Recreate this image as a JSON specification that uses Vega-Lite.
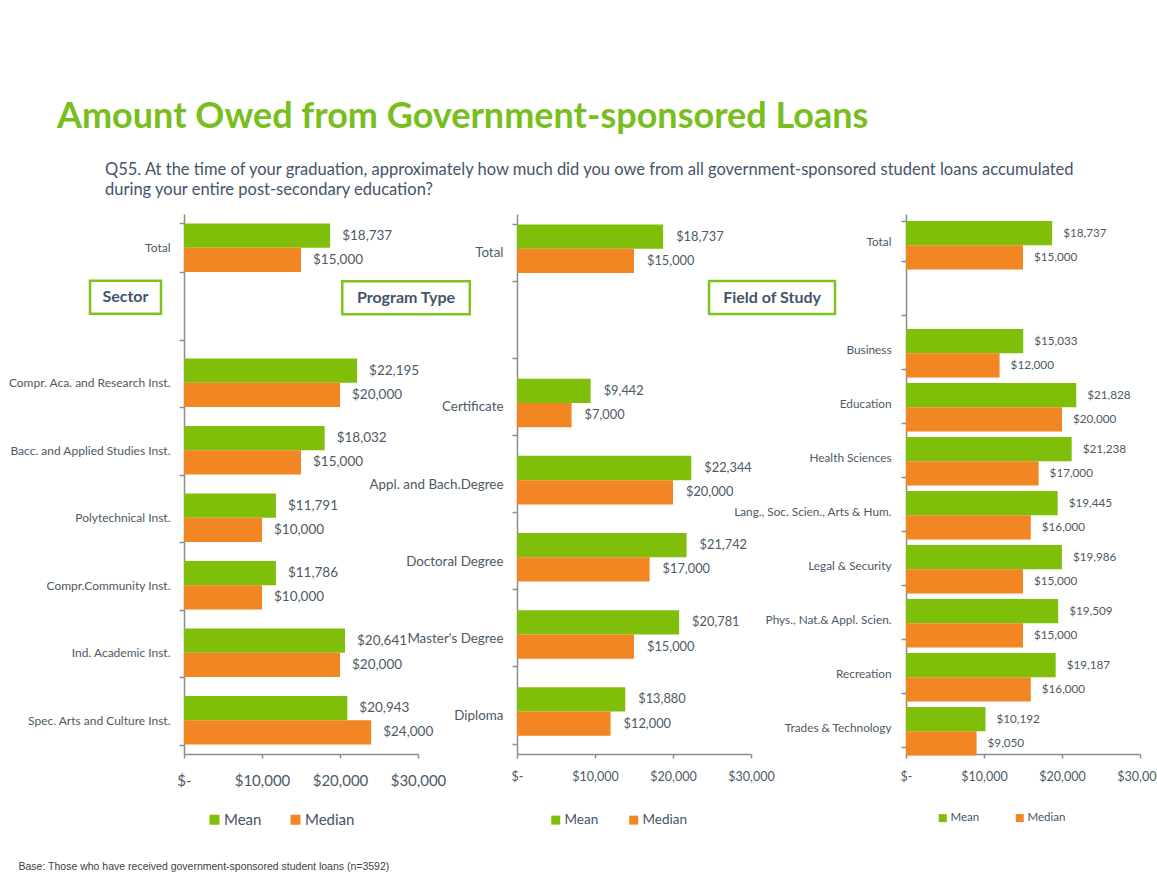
{
  "$schema": "https://vega.github.io/schema/vega-lite/v6.json",
  "padding": {"left": 8, "top": 98, "right": 0, "bottom": 0},
  "background": "white",
  "title": {"text": "Amount Owed from Government-sponsored Loans", "anchor": "start", "frame": "group", "dx": -127, "fontSize": 36, "font": "Lato", "fontWeight": "bold", "color": "#78BE1E", "offset": 26},
  "bounds": "flush",
  "spacing": 99,
  "resolve": {"scale": {"x": "independent", "y": "independent", "color": "independent"}, "legend": {"color": "independent"}},
  "hconcat": [
    {
      "width": 234,
      "height": 540,
      "title": {"text": ["Q55. At the time of your graduation, approximately how much did you owe from all government-sponsored student loans accumulated", "during your entire post-secondary education?"], "anchor": "start", "frame": "group", "dx": -79, "fontSize": 16.5, "font": "Lato", "fontWeight": "normal", "color": "#44546A", "lineHeight": 20, "offset": 10},
      "layer": [
        {
          "data": {"values": [
            {"cat": "Total", "measure": "Mean", "value": 18737},
            {"cat": "Total", "measure": "Median", "value": 15000},
            {"cat": "Compr. Aca. and Research Inst.", "measure": "Mean", "value": 22195},
            {"cat": "Compr. Aca. and Research Inst.", "measure": "Median", "value": 20000},
            {"cat": "Bacc. and Applied Studies Inst.", "measure": "Mean", "value": 18032},
            {"cat": "Bacc. and Applied Studies Inst.", "measure": "Median", "value": 15000},
            {"cat": "Polytechnical Inst.", "measure": "Mean", "value": 11791},
            {"cat": "Polytechnical Inst.", "measure": "Median", "value": 10000},
            {"cat": "Compr.Community Inst.", "measure": "Mean", "value": 11786},
            {"cat": "Compr.Community Inst.", "measure": "Median", "value": 10000},
            {"cat": "Ind. Academic Inst.", "measure": "Mean", "value": 20641},
            {"cat": "Ind. Academic Inst.", "measure": "Median", "value": 20000},
            {"cat": "Spec. Arts and Culture Inst.", "measure": "Mean", "value": 20943},
            {"cat": "Spec. Arts and Culture Inst.", "measure": "Median", "value": 24000}
          ]},
          "layer": [
            {
              "mark": {"type": "bar"},
              "encoding": {
                "y": {"field": "cat", "type": "nominal", "sort": null,
                  "scale": {"domain": ["Total", "blank", "Compr. Aca. and Research Inst.", "Bacc. and Applied Studies Inst.", "Polytechnical Inst.", "Compr.Community Inst.", "Ind. Academic Inst.", "Spec. Arts and Culture Inst."], "paddingInner": 0.28, "paddingOuter": 0.14},
                  "axis": {"title": null, "labelExpr": "datum.label == 'blank' ? '' : datum.label", "tickBand": "extent", "tickSize": 5, "labelPadding": 9, "labelFontSize": 12, "labelLimit": 300}},
                "yOffset": {"field": "measure", "type": "nominal", "scale": {"domain": ["Mean", "Median"]}},
                "x": {"field": "value", "type": "quantitative", "scale": {"domain": [0, 30000], "nice": false},
                  "axis": {"values": [0, 10000, 20000, 30000], "labelExpr": "datum.value == 0 ? '$-' : '$' + format(datum.value, ',')", "labelFontSize": 15, "labelPadding": 15,
                    "title": "Base: Those who have received government-sponsored student loans (n=3592)", "titleFont": "Liberation Sans", "titleFontSize": 10.5, "titleFontWeight": "normal", "titleColor": "#404040", "titleX": -166, "titleY": 115, "titleAlign": "left", "titleAnchor": "start", "titleBaseline": "alphabetic"}},
                "color": {"field": "measure", "type": "nominal", "scale": {"domain": ["Mean", "Median"], "range": ["#7FBF0A", "#F28623"]},
                  "legend": {"orient": "none", "legendX": 23, "legendY": 598, "direction": "horizontal", "title": null, "symbolType": "square", "symbolSize": 100, "symbolStrokeWidth": 0, "labelFontSize": 15, "columnPadding": 26, "labelOffset": 2}}
              }
            },
            {
              "mark": {"type": "text", "align": "left", "baseline": "middle", "dx": 12, "fontSize": 13.5, "color": "#4D5966"},
              "encoding": {
                "y": {"field": "cat", "type": "nominal", "sort": null},
                "yOffset": {"field": "measure", "type": "nominal"},
                "x": {"field": "value", "type": "quantitative"},
                "text": {"field": "value", "type": "quantitative", "format": "$,"}
              }
            }
          ]
        },
        {
          "data": {"values": [{"label": "Sector"}]},
          "layer": [
            {
              "mark": {"type": "bar", "height": 33, "yOffset": -18, "fill": "white", "stroke": "#7DC21E", "strokeWidth": 2.5},
              "encoding": {"x": {"datum": -12050}, "x2": {"datum": -2950}, "y": {"datum": "blank"}}
            },
            {
              "mark": {"type": "text", "yOffset": -18, "fontSize": 16, "fontWeight": "bold", "color": "#44546A", "baseline": "middle"},
              "encoding": {"x": {"datum": -7500}, "y": {"datum": "blank"}, "text": {"field": "label"}}
            }
          ]
        }
      ]
    },
    {
      "bounds": "flush",
      "spacing": 155,
      "resolve": {"scale": {"x": "independent", "y": "independent", "color": "independent"}, "legend": {"color": "independent"}},
      "hconcat": [
        {
          "width": 234,
          "height": 540,
          "layer": [
            {
              "data": {"values": [
                {"cat": "Total", "measure": "Mean", "value": 18737},
                {"cat": "Total", "measure": "Median", "value": 15000},
                {"cat": "Certificate", "measure": "Mean", "value": 9442},
                {"cat": "Certificate", "measure": "Median", "value": 7000},
                {"cat": "Appl. and Bach.Degree", "measure": "Mean", "value": 22344},
                {"cat": "Appl. and Bach.Degree", "measure": "Median", "value": 20000},
                {"cat": "Doctoral Degree", "measure": "Mean", "value": 21742},
                {"cat": "Doctoral Degree", "measure": "Median", "value": 17000},
                {"cat": "Master's Degree", "measure": "Mean", "value": 20781},
                {"cat": "Master's Degree", "measure": "Median", "value": 15000},
                {"cat": "Diploma", "measure": "Mean", "value": 13880},
                {"cat": "Diploma", "measure": "Median", "value": 12000}
              ]},
              "layer": [
                {
                  "mark": {"type": "bar"},
                  "encoding": {
                    "y": {"field": "cat", "type": "nominal", "sort": null,
                      "scale": {"domain": ["Total", "blank", "Certificate", "Appl. and Bach.Degree", "Doctoral Degree", "Master's Degree", "Diploma"], "paddingInner": 0.27, "paddingOuter": 0.135},
                      "axis": {"title": null, "labelExpr": "datum.label == 'blank' ? '' : datum.label", "tickBand": "extent", "tickSize": 5, "labelPadding": 9, "labelFontSize": 13.4, "labelLimit": 300}},
                    "yOffset": {"field": "measure", "type": "nominal", "scale": {"domain": ["Mean", "Median"]}},
                    "x": {"field": "value", "type": "quantitative", "scale": {"domain": [0, 30000], "nice": false},
                      "axis": {"values": [0, 10000, 20000, 30000], "labelExpr": "datum.value == 0 ? '$-' : '$' + format(datum.value, ',')", "labelFontSize": 12.5, "labelPadding": 12, "title": null}},
                    "color": {"field": "measure", "type": "nominal", "scale": {"domain": ["Mean", "Median"], "range": ["#7FBF0A", "#F28623"]},
                      "legend": {"orient": "none", "legendX": 32, "legendY": 599, "direction": "horizontal", "title": null, "symbolType": "square", "symbolSize": 81, "symbolStrokeWidth": 0, "labelFontSize": 13.5, "columnPadding": 28, "labelOffset": 2}}
                  }
                },
                {
                  "mark": {"type": "text", "align": "left", "baseline": "middle", "dx": 13, "fontSize": 12.8, "color": "#4D5966"},
                  "encoding": {
                    "y": {"field": "cat", "type": "nominal", "sort": null},
                    "yOffset": {"field": "measure", "type": "nominal"},
                    "x": {"field": "value", "type": "quantitative"},
                    "text": {"field": "value", "type": "quantitative", "format": "$,"}
                  }
                }
              ]
            },
            {
              "data": {"values": [{"label": "Program Type"}]},
              "layer": [
                {
                  "mark": {"type": "bar", "height": 33, "yOffset": -32, "fill": "white", "stroke": "#7DC21E", "strokeWidth": 2.5},
                  "encoding": {"x": {"datum": -22400}, "x2": {"datum": -6050}, "y": {"datum": "blank"}}
                },
                {
                  "mark": {"type": "text", "yOffset": -32, "fontSize": 16, "fontWeight": "bold", "color": "#44546A", "baseline": "middle"},
                  "encoding": {"x": {"datum": -14225}, "y": {"datum": "blank"}, "text": {"field": "label"}}
                }
              ]
            }
          ]
        },
        {
          "width": 234,
          "height": 540,
          "layer": [
            {
              "data": {"values": [
                {"cat": "Total", "measure": "Mean", "value": 18737},
                {"cat": "Total", "measure": "Median", "value": 15000},
                {"cat": "Business", "measure": "Mean", "value": 15033},
                {"cat": "Business", "measure": "Median", "value": 12000},
                {"cat": "Education", "measure": "Mean", "value": 21828},
                {"cat": "Education", "measure": "Median", "value": 20000},
                {"cat": "Health Sciences", "measure": "Mean", "value": 21238},
                {"cat": "Health Sciences", "measure": "Median", "value": 17000},
                {"cat": "Lang., Soc. Scien., Arts & Hum.", "measure": "Mean", "value": 19445},
                {"cat": "Lang., Soc. Scien., Arts & Hum.", "measure": "Median", "value": 16000},
                {"cat": "Legal & Security", "measure": "Mean", "value": 19986},
                {"cat": "Legal & Security", "measure": "Median", "value": 15000},
                {"cat": "Phys., Nat.& Appl. Scien.", "measure": "Mean", "value": 19509},
                {"cat": "Phys., Nat.& Appl. Scien.", "measure": "Median", "value": 15000},
                {"cat": "Recreation", "measure": "Mean", "value": 19187},
                {"cat": "Recreation", "measure": "Median", "value": 16000},
                {"cat": "Trades & Technology", "measure": "Mean", "value": 10192},
                {"cat": "Trades & Technology", "measure": "Median", "value": 9050}
              ]},
              "layer": [
                {
                  "mark": {"type": "bar"},
                  "encoding": {
                    "y": {"field": "cat", "type": "nominal", "sort": null,
                      "scale": {"domain": ["Total", "blank", "Business", "Education", "Health Sciences", "Lang., Soc. Scien., Arts & Hum.", "Legal & Security", "Phys., Nat.& Appl. Scien.", "Recreation", "Trades & Technology"], "paddingInner": 0.26, "paddingOuter": 0.13},
                      "axis": {"title": null, "labelExpr": "datum.label == 'blank' ? '' : datum.label", "tickBand": "extent", "tickSize": 5, "labelPadding": 10, "labelFontSize": 11.8, "labelLimit": 300}},
                    "yOffset": {"field": "measure", "type": "nominal", "scale": {"domain": ["Mean", "Median"]}},
                    "x": {"field": "value", "type": "quantitative", "scale": {"domain": [0, 30000], "nice": false},
                      "axis": {"values": [0, 10000, 20000, 30000], "labelExpr": "datum.value == 0 ? '$-' : '$' + format(datum.value, ',')", "labelFontSize": 12.5, "labelPadding": 12, "title": null}},
                    "color": {"field": "measure", "type": "nominal", "scale": {"domain": ["Mean", "Median"], "range": ["#7FBF0A", "#F28623"]},
                      "legend": {"orient": "none", "legendX": 31, "legendY": 598, "direction": "horizontal", "title": null, "symbolType": "square", "symbolSize": 64, "symbolStrokeWidth": 0, "labelFontSize": 11.5, "columnPadding": 34, "labelOffset": 2}}
                  }
                },
                {
                  "mark": {"type": "text", "align": "left", "baseline": "middle", "dx": 11, "fontSize": 11.7, "color": "#4D5966"},
                  "encoding": {
                    "y": {"field": "cat", "type": "nominal", "sort": null},
                    "yOffset": {"field": "measure", "type": "nominal"},
                    "x": {"field": "value", "type": "quantitative"},
                    "text": {"field": "value", "type": "quantitative", "format": "$,"}
                  }
                }
              ]
            },
            {
              "data": {"values": [{"label": "Field of Study"}]},
              "layer": [
                {
                  "mark": {"type": "bar", "height": 33, "yOffset": 2.5, "fill": "white", "stroke": "#7DC21E", "strokeWidth": 2.5},
                  "encoding": {"x": {"datum": -25250}, "x2": {"datum": -9100}, "y": {"datum": "blank"}}
                },
                {
                  "mark": {"type": "text", "yOffset": 2.5, "fontSize": 16, "fontWeight": "bold", "color": "#44546A", "baseline": "middle"},
                  "encoding": {"x": {"datum": -17175}, "y": {"datum": "blank"}, "text": {"field": "label"}}
                }
              ]
            }
          ]
        }
      ]
    }
  ],
  "config": {
    "view": {"stroke": null},
    "font": "Lato",
    "axis": {"labelFont": "Lato", "labelColor": "#4D5966", "domainColor": "#8C8C8C", "tickColor": "#8C8C8C", "domainWidth": 1.5, "tickWidth": 1.5, "grid": false, "labelFontWeight": "normal"},
    "axisX": {"tickSize": 4, "labelFlush": false, "labelOverlap": false},
    "legend": {"labelFont": "Lato", "labelColor": "#44546A"}
  }
}
